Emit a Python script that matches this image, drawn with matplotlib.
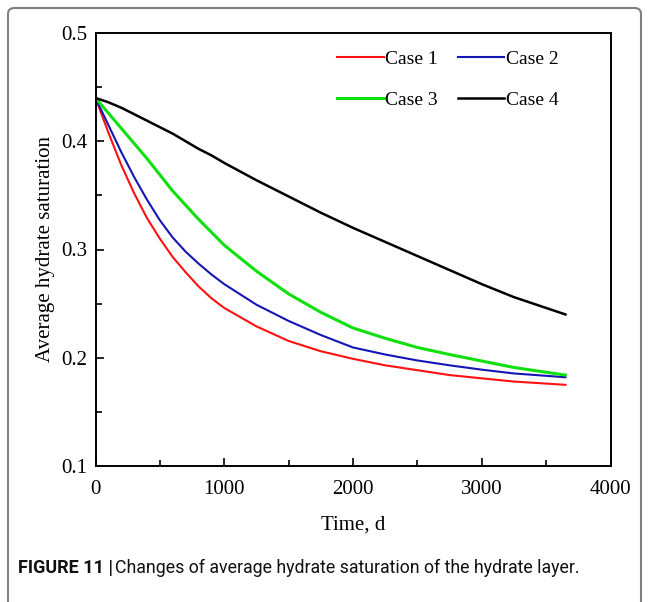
import matplotlib
matplotlib.use('Agg')
import matplotlib.pyplot as plt
from matplotlib.patches import FancyBboxPatch

# Time (d) and average hydrate saturation
time_d = [0, 100, 200, 300, 400, 500, 600, 700, 800, 900, 1000, 1250, 1500, 1750,
          2000, 2250, 2500, 2750, 3000, 3250, 3650]
case1 = [0.44, 0.408, 0.378, 0.352, 0.329, 0.310, 0.293, 0.279, 0.266, 0.255, 0.246,
         0.229, 0.2155, 0.206, 0.199, 0.193, 0.1885, 0.184, 0.181, 0.178, 0.175]
case2 = [0.44, 0.415, 0.390, 0.367, 0.346, 0.327, 0.311, 0.298, 0.287, 0.277, 0.268,
         0.249, 0.234, 0.221, 0.2095, 0.203, 0.1975, 0.193, 0.189, 0.1855, 0.182]
case3 = [0.44, 0.426, 0.412, 0.398, 0.384, 0.369, 0.354, 0.341, 0.328, 0.316, 0.304,
         0.280, 0.259, 0.242, 0.2275, 0.218, 0.2095, 0.203, 0.197, 0.191, 0.184]
case4 = [0.44, 0.436, 0.431, 0.425, 0.419, 0.413, 0.407, 0.400, 0.393, 0.387, 0.380,
         0.364, 0.349, 0.334, 0.320, 0.307, 0.294, 0.281, 0.268, 0.256, 0.240]

labels = ['Case 1', 'Case 2', 'Case 3', 'Case 4']
colors = ['#ff1010', '#1515b5', '#10e010', '#000000']
widths = [1.5, 1.5, 2.2, 1.8]

x_ticks = [0, 1000, 2000, 3000, 4000]
x_minor = [500, 1500, 2500, 3500]
y_ticks = [0.1, 0.2, 0.3, 0.4, 0.5]
y_minor = [0.15, 0.25, 0.35, 0.45]

plt.rcParams['font.family'] = ['Liberation Serif', 'DejaVu Serif']

fig = plt.figure(figsize=(6.51, 6.02), dpi=100)

# grey rounded frame around the whole figure
frame = FancyBboxPatch((8 / 651, -0.05), 633 / 651, 1.05 - 8 / 602,
                       boxstyle='round,pad=0,rounding_size=0.01',
                       transform=fig.transFigure, fill=False,
                       edgecolor='#808080', linewidth=1.5)
fig.patches.append(frame)

ax = fig.add_axes([95.5 / 651, 1 - 466 / 602, 515 / 651, 433 / 602])

series = [case1, case2, case3, case4]
lines = []
for vals, lab, col, lw in zip(series, labels, colors, widths):
    ln, = ax.plot(time_d, vals, color=col, lw=lw, label=lab)
    lines.append(ln)

ax.set_xlim(0, 4000)
ax.set_ylim(0.1, 0.5)
ax.set_xticks(x_ticks, ['0', '1000', '2000', '3000', '4000'])
ax.set_xticks(x_minor, minor=True)
ax.set_yticks(y_ticks, ['0.1', '0.2', '0.3', '0.4', '0.5'])
ax.set_yticks(y_minor, minor=True)
ax.tick_params(which='both', direction='in', top=False, right=False, width=1.2)
ax.tick_params(which='major', length=6, labelsize=15)
ax.tick_params(which='minor', length=4)
ax.tick_params(axis='x', pad=10)
ax.tick_params(axis='y', pad=6)
for sp in ax.spines.values():
    sp.set_linewidth(1.4)

ax.set_xlabel('Time, d', fontsize=15, labelpad=12)
ax.set_ylabel('Average hydrate saturation', fontsize=15, labelpad=4)

# two columns filled row by row: Case 1, Case 2 / Case 3, Case 4
order = [0, 2, 1, 3]
ax.legend([lines[i] for i in order], [labels[i] for i in order],
          ncol=2, loc='upper right', bbox_to_anchor=(0.9, 0.96), frameon=False,
          fontsize=14, handlelength=2.4, handletextpad=0.1, columnspacing=1.0,
          labelspacing=1.2, borderpad=0, borderaxespad=0)

# caption below the chart
cap_font = ['Roboto', 'DejaVu Sans']
t1 = fig.text(18 / 651, 1 - 568 / 602, 'FIGURE 11 |', fontsize=13, fontweight='bold',
              family=cap_font, va='center', ha='left', color='#111111')
fig.canvas.draw()
bb = t1.get_window_extent()
x2 = (bb.x1 + 2) / fig.bbox.width
fig.text(x2, 1 - 568 / 602, 'Changes of average hydrate saturation of the hydrate layer.',
         fontsize=12.8, family=cap_font, va='center', ha='left', color='#111111')

fig.savefig('out.png', dpi=100)
